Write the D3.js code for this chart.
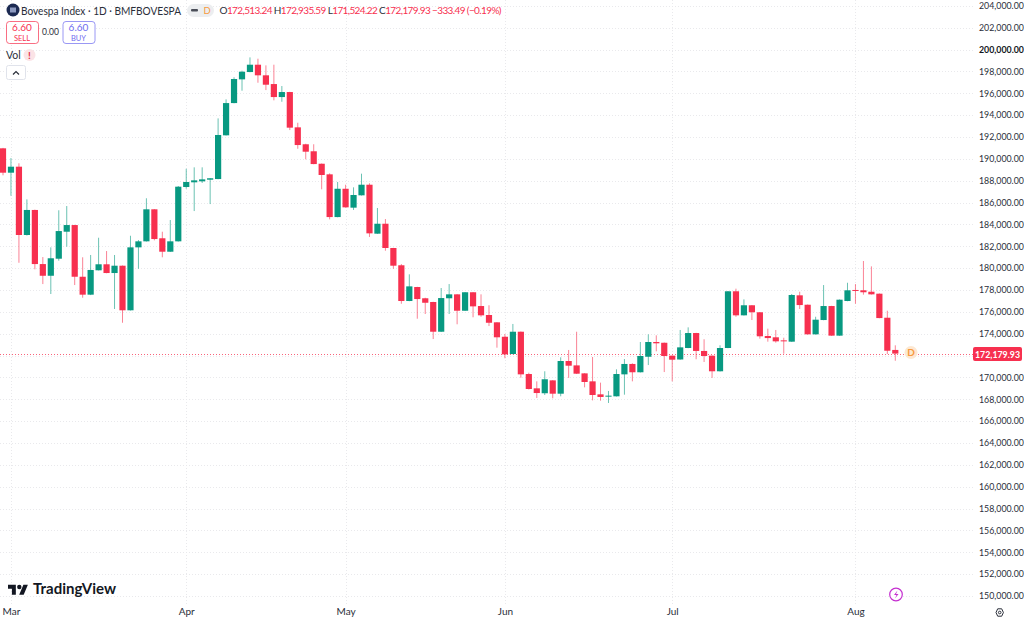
<!DOCTYPE html>
<html>
<head>
<meta charset="utf-8">
<title>Bovespa Index</title>
<script src="https://cdn.jsdelivr.net/npm/d3@7"></script>
<style>
html, body { margin: 0; padding: 0; background: #fff; overflow: hidden; }
text { font-family: Lato, "Noto Sans", sans-serif; }
</style>
</head>
<body>
<svg id="chart"></svg>
<script>
// daily candles
let opens = [190960,188730,189280,183030,185320,180370,179300,180860,183330,183940,179210,177570,179800,180350,179550,180220,176140,181900,182450,185380,182730,181500,182450,
  187420,187850,187940,188090,188150,192150,195100,197270,197940,198610,197640,196840,195650,196110,192880,191330,190690,189550,188580,184670,187260,
  185530,186660,187630,183150,184060,181840,180260,176990,178270,177240,176900,174180,177240,177600,176100,177790,176530,175710,175040,173720,
  172140,174180,170310,169000,168550,169730,168510,171500,171100,170370,169640,168450,168270,168270,170280,171230,170470,171890,173240,173170,171990,
  171640,172690,174060,172420,171990,170560,172690,177880,175680,176600,175960,173790,173670,173390,173270,177510,176650,173940,175250,176530,173820,176990,178000,177970,177840,177660,175460,172513.24]
let highs = [191000,190070,189590,186290,185350,181010,181900,185290,185680,183960,180990,181200,182780,181560,181200,180240,182960,182570,186390,185400,183330,184400,187510,
  189090,189220,189220,188240,193700,195440,197460,198060,199280,199160,198550,198610,196660,196130,193300,191380,191330,189570,188670,187880,187630,
  187390,188640,187760,185500,184490,181860,180370,179430,178290,177290,176920,178180,178540,177620,177810,177810,177600,176600,175060,173970,
  174890,174200,170430,169640,170560,169750,171840,172510,174180,170390,171870,169520,168760,170740,171680,171290,173240,173940,173850,173190,172010,
  174340,174580,174080,173490,172010,172940,177900,178120,177140,176620,175980,174460,174340,173630,177630,177840,176670,175550,178450,176550,177130,178660,178540,180650,180160,177680,176100,172935.59]
let lows = [188490,186620,180490,182980,179890,178540,177630,180680,181960,178450,177290,177530,179790,179530,176260,175000,176120,179940,182430,182540,180990,181480,182430,
  187260,185220,187790,185860,188130,192130,195080,196230,197920,196960,196290,195350,195220,192630,190920,189950,189500,187210,184460,184650,185530,
  185320,186640,182850,183130,181590,179940,176740,176970,175370,175800,173510,174160,175800,174860,176080,175500,175550,174700,172720,171750,
  172120,169970,168890,168120,168390,168090,168270,169950,170310,169090,167900,167870,167660,168250,168420,169640,170450,171130,172390,170490,169640,
  171620,172670,171660,171410,169950,170540,172670,175550,175660,175250,173540,173270,173180,172170,173250,176260,173920,173920,175230,173800,173800,176970,176740,177570,177580,175410,172140,171524.22]
let closes = [188730,189280,183030,185320,180370,179300,180900,183390,183940,179210,177570,179830,180350,179550,180220,176140,181900,182450,185380,182660,181500,182450,187450,
  187880,188030,188120,188220,192180,195100,197300,197970,198610,197640,196780,195650,196110,192850,191260,190650,189520,188520,184670,187260,185560,
  186690,187630,183180,184060,181840,180220,176990,178330,177170,176830,174180,177260,177600,176100,177790,176500,175680,175000,173670,172110,
  174180,170280,168940,168570,169830,168510,171500,171070,170340,169580,168390,168210,168330,170310,171230,170470,171960,173240,173120,171960,171620,
  172750,174060,172420,171960,170560,172690,177880,175680,176600,175960,173760,173600,173300,173330,177540,176620,173940,175280,176530,173820,177110,177970,177930,177790,177600,175430,172440,172179.93]

let monthLabels = ['Mar','Apr','May','Jun','Jul','Aug']
let monthStarts = [1,23,43,63,84,107]   // bar index of the first session of each month
let priceTicks = d3.range(150000, 204001, 2000)
let hiddenTick = 172000   // sits under the last price tag
let majorTick = 200000
let lastPrice = 172179.93

let width = 1024
let height = 622
let axisX = 975
let timeY = 606

let green = '#089981'
let red = '#f7304f'

let svg = d3.select('#chart').attr('width', width).attr('height', height).style('display', 'block')
svg.append('rect').attr('width', width).attr('height', height).attr('fill', '#fff')

let xScale = d3.scaleLinear().domain([0, closes.length - 1]).range([3, 895.3])
let yScale = d3.scaleLinear().domain([150000, 204000]).range([596, 5.8])
let fmt = d3.format(',.2f')
let lastY = Math.ceil(yScale(lastPrice)) + 0.5

// grid
let drawGrid = () => {
    svg.append('g').selectAll('line').data(priceTicks).enter().append('line')
    .attr('x1', 0).attr('x2', axisX)
    .attr('y1', d => Math.round(yScale(d)) + 0.5).attr('y2', d => Math.round(yScale(d)) + 0.5)
    .attr('stroke', '#e9e9ec').attr('stroke-dasharray', '1 2')

    svg.append('g').selectAll('line').data(monthStarts).enter().append('line')
    .attr('x1', d => Math.round(xScale(d)) + 0.5).attr('x2', d => Math.round(xScale(d)) + 0.5)
    .attr('y1', 0).attr('y2', 604)
    .attr('stroke', '#e9e9ec').attr('stroke-dasharray', '1 2')

    svg.append('line')
    .attr('x1', 0).attr('x2', axisX).attr('y1', lastY).attr('y2', lastY)
    .attr('stroke', red).attr('stroke-opacity', 0.75).attr('stroke-dasharray', '1 2')
}

// axes
let drawAxes = () => {
    let yAxis = d3.axisRight(yScale).tickValues(priceTicks.filter(d => d !== hiddenTick)).tickFormat(fmt).tickSize(0).tickPadding(4)
    let yG = svg.append('g').attr('transform', 'translate(' + axisX + ',0)').call(yAxis)
    yG.select('.domain').remove()
    yG.selectAll('text')
    .attr('font-size', 8.8)
    .attr('font-weight', d => d === majorTick ? 700 : 400)
    .attr('fill', d => d === majorTick ? '#131722' : '#2a2e39')

    let xAxis = d3.axisBottom(xScale).tickValues(monthStarts)
    .tickFormat((d, i) => monthLabels[i]).tickSize(0).tickPadding(2)
    let xG = svg.append('g').attr('transform', 'translate(0,' + timeY + ')').call(xAxis)
    xG.select('.domain').remove()
    xG.selectAll('text').attr('font-size', 10).attr('fill', '#2a2e39')
}

// candles
let drawCandles = () => {
    let bars = closes.map((c, i) => ({i: i, o: opens[i], h: highs[i], l: lows[i], c: c}))
    let g = svg.append('g').selectAll('g').data(bars).enter().append('g')
    let colour = d => d.c >= d.o ? green : red

    g.append('line')
    .attr('x1', d => xScale(d.i)).attr('x2', d => xScale(d.i))
    .attr('y1', d => yScale(d.h)).attr('y2', d => yScale(d.l))
    .attr('stroke', colour).attr('stroke-opacity', 0.6).attr('stroke-width', 1)

    g.append('rect')
    .attr('x', d => xScale(d.i) - 3.1)
    .attr('width', 6.2)
    .attr('y', d => yScale(Math.max(d.o, d.c)))
    .attr('height', d => Math.max(1, Math.abs(yScale(d.o) - yScale(d.c))))
    .attr('fill', colour)
}

// last price tag and the D marker
let drawLastPrice = () => {
    svg.append('rect')
    .attr('x', 973).attr('y', lastY - 7.5).attr('width', 49).attr('height', 14).attr('rx', 2)
    .attr('fill', red)
    svg.append('text').text(fmt(lastPrice))
    .attr('x', 997.5).attr('y', lastY + 3).attr('text-anchor', 'middle')
    .attr('font-size', 8.8).attr('font-weight', 700).attr('fill', '#fff')

    svg.append('circle').attr('cx', 911).attr('cy', lastY - 2).attr('r', 6.5).attr('fill', '#fde8d2')
    svg.append('text').text('D')
    .attr('x', 911).attr('y', lastY + 1.5).attr('text-anchor', 'middle')
    .attr('font-size', 10).attr('font-weight', 700).attr('fill', '#f79a3e')
}

// top left legend
let drawLegend = () => {
    svg.append('circle').attr('cx', 13).attr('cy', 10).attr('r', 6.5).attr('fill', '#1c2a52')
    svg.append('rect').attr('x', 10).attr('y', 7.5).attr('width', 6).attr('height', 5).attr('fill', '#8d9ac0')

    svg.append('text').text('Bovespa Index · 1D · BMFBOVESPA')
    .attr('x', 21).attr('y', 14.5).attr('font-size', 11.2).attr('fill', '#2a2e39')
    .attr('textLength', 160).attr('lengthAdjust', 'spacingAndGlyphs')

    svg.append('rect').attr('x', 187).attr('y', 4).attr('width', 27).attr('height', 13).attr('rx', 6.5).attr('fill', '#eceef0')
    svg.append('rect').attr('x', 191).attr('y', 9).attr('width', 7).attr('height', 2.5).attr('rx', 1).attr('fill', '#4a4e58')
    svg.append('text').text('D').attr('x', 203.5).attr('y', 14).attr('font-size', 9.5).attr('fill', '#f79a3e')

    let ohlc = svg.append('text').attr('x', 219.5).attr('y', 14).attr('font-size', 10).attr('fill', red)
    .attr('textLength', 282).attr('lengthAdjust', 'spacing')
    let parts = [['O', true], ['172,513.24 ', false], ['H', true], ['172,935.59 ', false], ['L', true], ['171,524.22 ', false], ['C', true], ['172,179.93 ', false], ['\u2212333.49 (\u22120.19%)', false]]
    parts.forEach(p => {
        ohlc.append('tspan').text(p[0]).attr('fill', p[1] ? '#2a2e39' : red)
    })

    let orderBox = (x, w, col, top, bottom) => {
        svg.append('rect').attr('x', x + 0.5).attr('y', 21.5).attr('width', w).attr('height', 22).attr('rx', 3)
        .attr('fill', '#fff').attr('stroke', col).attr('stroke-opacity', 0.7)
        svg.append('text').text(top).attr('x', x + w / 2).attr('y', 31).attr('text-anchor', 'middle')
        .attr('font-size', 10).attr('fill', col)
        svg.append('text').text(bottom).attr('x', x + w / 2).attr('y', 41).attr('text-anchor', 'middle')
        .attr('font-size', 7.5).attr('fill', col)
    }
    orderBox(6, 32, red, '6.60', 'SELL')
    orderBox(62.5, 32, '#6f6cf0', '6.60', 'BUY')
    svg.append('text').text('0.00').attr('x', 50.5).attr('y', 35).attr('text-anchor', 'middle')
    .attr('font-size', 8.5).attr('fill', '#2a2e39')

    svg.append('text').text('Vol').attr('x', 6).attr('y', 59).attr('font-size', 10.5).attr('fill', '#2a2e39')
    svg.append('circle').attr('cx', 29.5).attr('cy', 55).attr('r', 6).attr('fill', '#fbe3e6')
    svg.append('text').text('!').attr('x', 29.5).attr('y', 59).attr('text-anchor', 'middle')
    .attr('font-size', 10).attr('font-weight', 700).attr('fill', '#e0304a')

    svg.append('rect').attr('x', 6.5).attr('y', 65.5).attr('width', 19).attr('height', 14).attr('rx', 2)
    .attr('fill', '#fff').attr('stroke', '#e0e3eb')
    svg.append('path').attr('d', 'M13 74.5l3-3 3 3').attr('fill', 'none').attr('stroke', '#2a2e39').attr('stroke-width', 1.2)
}

// TradingView mark, lightning badge and settings gear
let drawBadges = () => {
    svg.append('path')
    .attr('transform', 'translate(8,582.5) scale(0.56)')
    .attr('d', 'M14 22H7V11H0V4h14v18zM28 22h-8l7.5-18h8L28 22z')
    .attr('fill', '#131722')
    svg.append('circle').attr('cx', 19.3).attr('cy', 587).attr('r', 2.2).attr('fill', '#131722')
    svg.append('text').text('TradingView')
    .attr('x', 33).attr('y', 594).attr('font-size', 15).attr('font-weight', 700).attr('fill', '#131722')
    .attr('textLength', 83).attr('lengthAdjust', 'spacingAndGlyphs')

    svg.append('circle').attr('cx', 896).attr('cy', 594.5).attr('r', 6.3)
    .attr('fill', '#fff').attr('stroke', '#c52fd0').attr('stroke-width', 1.2)
    svg.append('path').attr('d', 'M897.5 590.5l-3.5 4.5h2.5l-1.5 3.5 3.5-4.5h-2.5z').attr('fill', '#c52fd0')

    svg.append('path').attr('d', 'M996 612.5l1.7-3.7h4l1.7 3.7-1.7 3.7h-4z').attr('fill', 'none').attr('stroke', '#2a2e39').attr('stroke-width', 1)
    svg.append('circle').attr('cx', 999.7).attr('cy', 612.5).attr('r', 1.3).attr('fill', 'none').attr('stroke', '#2a2e39').attr('stroke-width', 1)
}

drawGrid()
drawCandles()
drawAxes()
drawLastPrice()
drawLegend()
drawBadges()
</script>
</body>
</html>
